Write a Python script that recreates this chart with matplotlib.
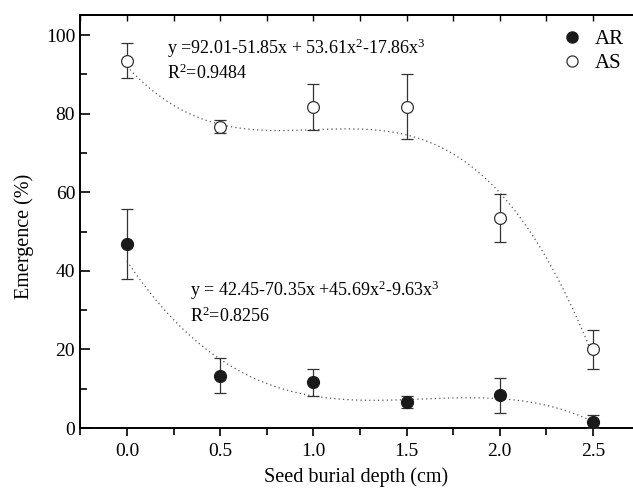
import numpy as np
import matplotlib
matplotlib.use("Agg")
import matplotlib.pyplot as plt
from matplotlib.ticker import MultipleLocator
from matplotlib.lines import Line2D

plt.rcParams['font.family'] = ['Liberation Serif', 'DejaVu Serif']
plt.rcParams['mathtext.fontset'] = 'custom'
plt.rcParams['mathtext.rm'] = 'Liberation Serif'
plt.rcParams['mathtext.it'] = 'Liberation Serif'

depth = [0.0, 0.5, 1.0, 1.5, 2.0, 2.5]

# AR (filled)
ar_mean = [46.7, 13.3, 11.7, 6.7, 8.4, 1.6]
ar_low = [37.9, 8.9, 8.2, 5.1, 3.9, 0.0]
ar_high = [55.7, 17.8, 15.0, 8.2, 12.8, 3.3]

# AS (open)
as_mean = [93.3, 76.7, 81.7, 81.7, 53.4, 20.0]
as_low = [89.0, 75.0, 75.8, 73.5, 47.3, 15.0]
as_high = [97.9, 78.3, 87.6, 90.0, 59.6, 24.9]

# cubic fits printed on the chart
ar_coef = [42.45, -70.35, 45.69, -9.63]
as_coef = [92.01, -51.85, 53.61, -17.86]

fig = plt.figure(figsize=(6.33, 4.93), dpi=100)
ax = fig.add_axes([0.1264, 0.1318, 0.8736, 0.8378])

xs = np.linspace(0, 2.5, 200)
def poly(c, x):
    return c[0] + c[1]*x + c[2]*x**2 + c[3]*x**3

ax.plot(xs, poly(as_coef, xs), ls=(0, (1, 2.5)), color='#555555', lw=0.9)
ax.plot(xs, poly(ar_coef, xs), ls=(0, (1, 2.5)), color='#555555', lw=0.9)

def yerr(m, lo, hi):
    return [np.array(m) - np.array(lo), np.array(hi) - np.array(m)]

ax.errorbar(depth, ar_mean, yerr=yerr(ar_mean, ar_low, ar_high), fmt='o',
            color='#1a1a1a', mfc='#1a1a1a', mec='#1a1a1a', ms=8.5,
            ecolor='#333333', elinewidth=0.9, capsize=4.5, capthick=0.9,
            zorder=3)
ax.errorbar(depth, as_mean, yerr=yerr(as_mean, as_low, as_high), fmt='o',
            color='#1a1a1a', mfc='white', mec='#333333', ms=8.5, mew=0.9,
            ecolor='#333333', elinewidth=0.9, capsize=4.5, capthick=0.9,
            zorder=3)

ax.set_xlim(-0.252, 2.715)
ax.set_ylim(0, 105.1)
ax.xaxis.set_major_locator(MultipleLocator(0.5))
ax.xaxis.set_minor_locator(MultipleLocator(0.25))
ax.yaxis.set_major_locator(MultipleLocator(20))
ax.yaxis.set_minor_locator(MultipleLocator(10))
ax.xaxis.set_major_formatter(plt.FormatStrFormatter('%.1f'))

ax.tick_params(axis='x', which='both', direction='out', labelsize=14, pad=5,
               top=False)
ax.tick_params(axis='x', which='major', length=6, width=1.2)
ax.tick_params(axis='x', which='minor', length=5, width=1.2)
ax.tick_params(axis='y', which='both', direction='in', labelsize=14, width=1.2)
ax.tick_params(axis='y', which='major', length=7)
ax.tick_params(axis='y', which='minor', length=5)
ax.spines['right'].set_visible(False)
for s in ['left', 'bottom', 'top']:
    ax.spines[s].set_linewidth(1.4)

top = ax.secondary_xaxis('top')
top.xaxis.set_major_locator(MultipleLocator(0.25))
top.tick_params(axis='x', which='major', direction='in', length=4, width=1.0,
                labeltop=False)
top.spines['top'].set_linewidth(1.4)

ax.set_xlabel('Seed burial depth (cm)', fontsize=14.5, labelpad=5)
ax.set_ylabel('Emergence (%)', fontsize=14.5)
ax.yaxis.set_label_coords(-0.083, 0.465)

ax.text(0.215, 95.3, r'y =92.01-51.85x + 53.61x$^2$-17.86x$^3$', fontsize=13)
ax.text(0.215, 88.8, r'R$^2$=0.9484', fontsize=13)
ax.text(0.34, 33.5, r'y = 42.45-70.35x +45.69x$^2$-9.63x$^3$', fontsize=13)
ax.text(0.34, 27.0, r'R$^2$=0.8256', fontsize=13)

handles = [Line2D([], [], ls='none', marker='o', ms=8, mfc='#1a1a1a', mec='#1a1a1a'),
           Line2D([], [], ls='none', marker='o', ms=8, mfc='white', mec='#333333', mew=0.9)]
ax.legend(handles, ['AR', 'AS'], loc='upper right', bbox_to_anchor=(1.01, 1.0),
          frameon=False, fontsize=15, handletextpad=0.6, borderaxespad=0.3,
          labelspacing=0.2, handlelength=1.0)

fig.savefig('out.png', dpi=100)
